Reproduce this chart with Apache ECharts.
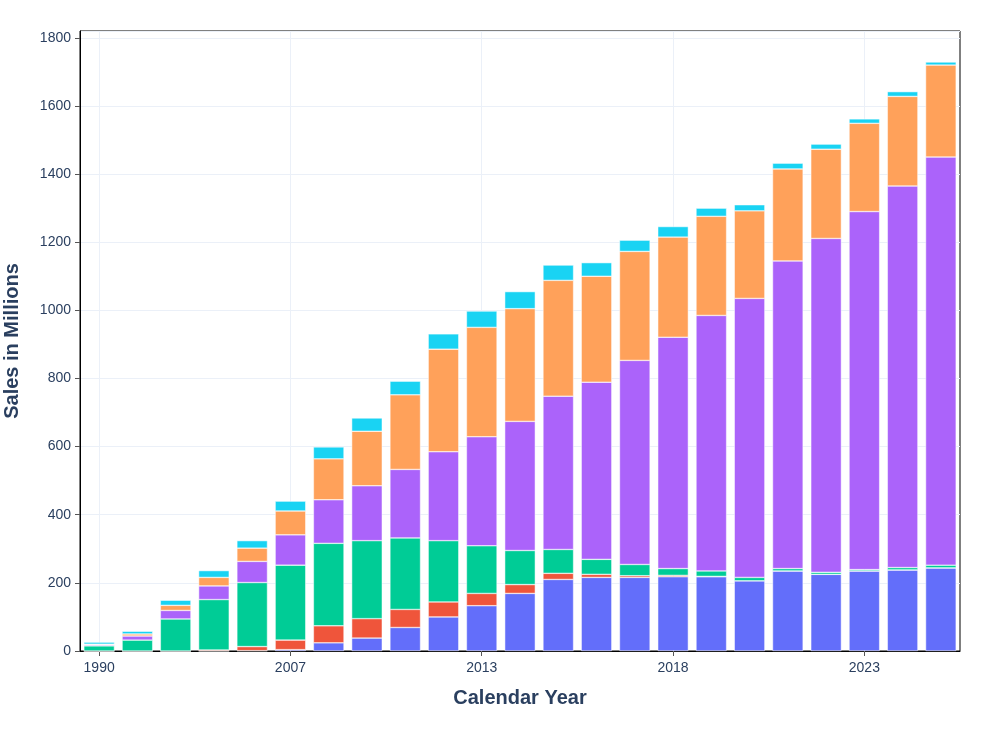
<!DOCTYPE html>
<html>
<head>
<meta charset="utf-8">
<script src="https://cdn.jsdelivr.net/npm/echarts@6/dist/echarts.min.js"></script>
<style>
html,body{margin:0;padding:0;background:#fff;}
#chart{width:986px;height:731px;}
</style>
</head>
<body>
<div id="chart"></div>
<script>
const years = ['1990','1995','2000','2003','2005','2007','2009','2010','2011','2012','2013','2014','2015','2016','2017','2018','2019','2020','2021','2022','2023','2024','2025'];
const xTickLabels = ['1990','2007','2013','2018','2023'];
const yTicks = [0,200,400,600,800,1000,1200,1400,1600,1800];

const seriesBlue   = [0,0,0,0,1,4,24,38,69,100,133,169,210,216,216,218,218,206,235,225,235,238,244];
const seriesRed    = [0,0,0,3,12,28,50,57,53,44,36,26,18,9,5,4,1,0,0,0,0,0,0];
const seriesGreen  = [15,32,94,148,188,220,242,229,210,180,140,100,70,44,33,20,16,10,7,6,4,7,8];
const seriesPurple = [3,12,25,40,62,89,128,161,201,261,320,379,450,520,599,679,750,819,903,980,1051,1120,1198];
const seriesOrange = [2,6,15,25,39,70,120,160,219,301,321,331,340,311,320,294,291,257,270,262,259,263,270];
const seriesCyan   = [6,8,15,20,22,29,35,39,40,45,48,50,45,40,33,31,24,18,17,15,13,14,9];

const seriesNames = ['Series 1','Series 2','Series 3','Series 4','Series 5','Series 6'];
const seriesData = [seriesBlue, seriesRed, seriesGreen, seriesPurple, seriesOrange, seriesCyan];
const colors = ['#636EFA','#EF553B','#00CC96','#AB63FA','#FFA15A','#19D3F3'];

const FONT = 'Liberation Sans, Arial, sans-serif';
const TXT = '#2a3f5f';
const GRID = '#EBF0F8';

const series = seriesData.map((d, i) => {
  const s = {
    name: seriesNames[i],
    type: 'bar',
    stack: 'total',
    data: d,
    barCategoryGap: '20%',
    itemStyle: { color: colors[i], borderColor: '#ffffff', borderWidth: 0.5 },
    emphasis: { disabled: true }
  };
  if (i === 0) {
    s.markLine = {
      silent: true,
      symbol: ['none','none'],
      z: 1,
      label: { show: false },
      lineStyle: { color: GRID, width: 1, type: 'solid' },
      data: xTickLabels.map(t => ({ xAxis: t }))
    };
  }
  return s;
});

const chart = echarts.init(document.getElementById('chart'), null, { renderer: 'canvas' });
chart.setOption({
  animation: false,
  backgroundColor: '#ffffff',
  color: colors,
  grid: { left: 80, right: 26, top: 31, bottom: 80, show: true, borderColor: '#000', borderWidth: 1, backgroundColor: 'transparent', containLabel: false, outerBoundsMode: 'none' },
  xAxis: {
    type: 'category',
    data: years,
    name: 'Calendar Year',
    nameLocation: 'middle',
    nameGap: 37,
    nameTextStyle: { fontFamily: FONT, fontSize: 20, fontWeight: 'bold', color: TXT, verticalAlign: 'top' },
    axisLine: { show: true, lineStyle: { color: '#000', width: 1 } },
    axisTick: { show: true, alignWithLabel: true, length: 5, interval: 4, lineStyle: { color: '#555' } },
    axisLabel: {
      interval: 4, margin: 10, fontFamily: FONT, fontSize: 14, color: TXT,
      formatter: v => xTickLabels.includes(v) ? v : ''
    },
    splitLine: { show: false }
  },
  yAxis: {
    type: 'value',
    min: 0,
    max: 1820,
    interval: 200,
    name: 'Sales in Millions',
    nameLocation: 'middle',
    nameGap: 58,
    nameTextStyle: { fontFamily: FONT, fontSize: 20, fontWeight: 'bold', color: TXT },
    axisLine: { show: true, lineStyle: { color: '#000', width: 1 } },
    axisTick: { show: true, length: 5, lineStyle: { color: '#555' } },
    axisLabel: {
      showMaxLabel: false, margin: 9, fontFamily: FONT, fontSize: 14, color: TXT,
      formatter: v => yTicks.includes(v) ? String(v) : ''
    },
    splitLine: { show: true, lineStyle: { color: GRID, width: 1 } }
  },
  series: series
});
</script>
</body>
</html>
